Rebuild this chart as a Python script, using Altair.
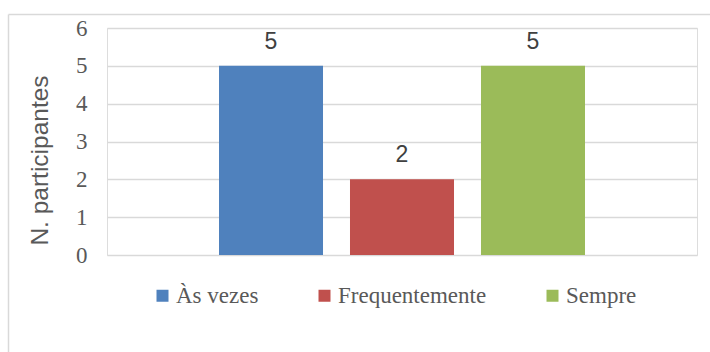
import altair as alt
import pandas as pd

# Survey answers and participant counts
categories = ["Às vezes", "Frequentemente", "Sempre"]
counts = [5, 2, 5]
palette = ["#4F81BD", "#C0504D", "#9BBB59"]
y_ticks = [0, 1, 2, 3, 4, 5, 6]

df = pd.DataFrame({"resposta": categories, "n": counts})

x_enc = alt.X(
    "resposta:N",
    sort=categories,
    axis=None,
    scale=alt.Scale(paddingInner=0.206, paddingOuter=0.855),
)
y_enc = alt.Y(
    "n:Q",
    scale=alt.Scale(domain=[0, 6], nice=False),
    axis=alt.Axis(
        values=y_ticks,
        tickCount=len(y_ticks),
        labelOverlap=False,
        title="N. participantes",
        titleFont="Liberation Sans",
        titleFontSize=24.5,
        titleFontWeight="normal",
        titleColor="#595959",
        titleAngle=270,
        titleAlign="center",
        titleBaseline="alphabetic",
        titleX=-60,
        titleY=132,
        labelFont="Liberation Serif",
        labelFontSize=23,
        labelColor="#595959",
        labelPadding=20,
        labelBaseline="middle",
        domain=False,
        ticks=False,
        grid=True,
        gridColor="#d9d9d9",
        gridWidth=1.5,
    ),
)

bars = alt.Chart(df).mark_bar().encode(
    x=x_enc,
    y=y_enc,
    color=alt.Color(
        "resposta:N",
        sort=categories,
        scale=alt.Scale(domain=categories, range=palette),
        legend=alt.Legend(
            title=None,
            orient="none",
            direction="horizontal",
            legendX=44,
            legendY=256,
            symbolType="square",
            symbolSize=144,
            symbolStrokeWidth=0,
            symbolOpacity=1,
            labelFont="Liberation Serif",
            labelFontSize=23,
            labelColor="#595959",
            labelOffset=2,
            columnPadding=54,
        ),
    ),
)

labels = alt.Chart(df).mark_text(
    font="Liberation Sans",
    fontSize=23,
    color="#404040",
    baseline="alphabetic",
    dy=-17,
).encode(x=x_enc, y=y_enc, text=alt.Text("n:Q"))

# Light frame around the chart (left and top edges)
frame_src = pd.DataFrame({"k": [0]})
frame_left = alt.Chart(frame_src).mark_rule(color="#d9d9d9", strokeWidth=1.5).encode(
    x=alt.value(-98.5), y=alt.value(-13.5), y2=alt.value(400)
)
frame_top = alt.Chart(frame_src).mark_rule(color="#d9d9d9", strokeWidth=1.5).encode(
    x=alt.value(-98.5), x2=alt.value(700), y=alt.value(-13.5)
)

chart = (
    alt.layer(bars, labels, frame_left, frame_top)
    .properties(
        width=590,
        height=227,
        autosize=alt.AutoSizeParams(type="none"),
        padding={"left": 107, "top": 28, "right": 13, "bottom": 97},
    )
    .configure_view(stroke=None)
    .configure(background="white")
)

chart.save("out.html", embed_options={"renderer": "svg", "actions": False})
